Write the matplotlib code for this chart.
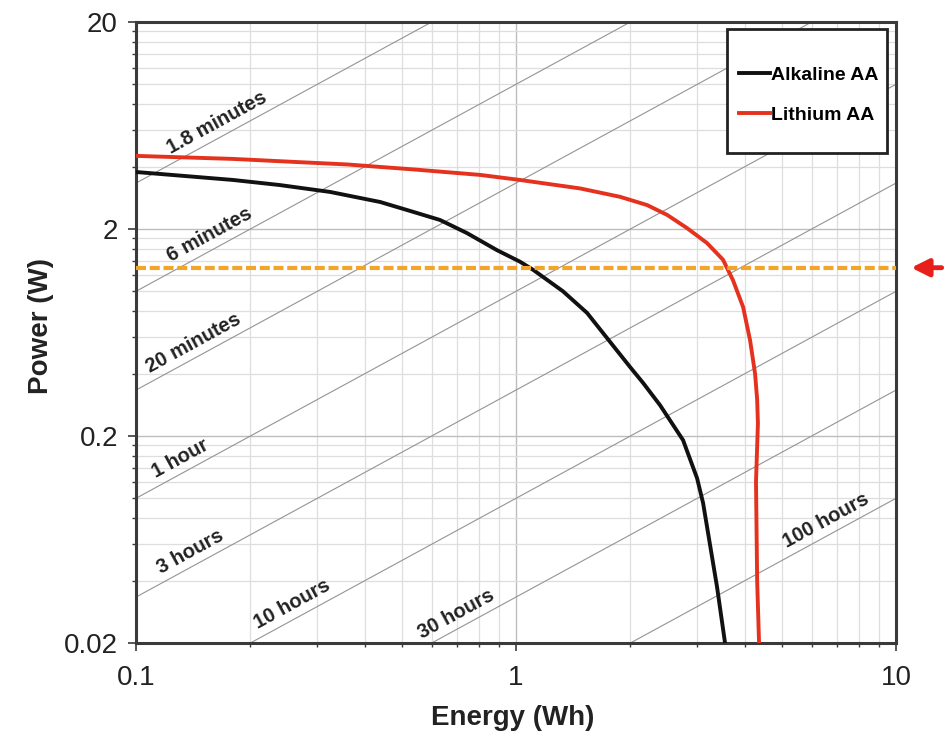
import numpy as np
import matplotlib
matplotlib.use('Agg')
import matplotlib.pyplot as plt
from matplotlib.ticker import FixedLocator, NullFormatter
from matplotlib.lines import Line2D
from matplotlib.patches import Rectangle

plt.rcParams['font.family'] = ['Liberation Sans', 'DejaVu Sans']

# ---------------- data ----------------
alk_energy = [0.100, 0.180, 0.239, 0.324, 0.439, 0.536, 0.631, 0.743, 0.891, 1.024,
              1.109, 1.329, 1.538, 1.736, 1.995, 2.159, 2.392, 2.751, 2.995, 3.106,
              3.240, 3.380, 3.548]
alk_power = [3.77, 3.45, 3.26, 3.02, 2.70, 2.42, 2.21, 1.91, 1.58, 1.39,
             1.27, 1.00, 0.786, 0.594, 0.431, 0.361, 0.282, 0.191, 0.125, 0.0949,
             0.0595, 0.0373, 0.020]

li_energy = [0.100, 0.180, 0.239, 0.359, 0.536, 0.804, 1.024, 1.474, 1.878, 2.212,
             2.497, 2.818, 3.181, 3.505, 3.724, 3.958, 4.129, 4.256, 4.310, 4.330,
             4.280, 4.310, 4.360]
li_power = [4.51, 4.36, 4.25, 4.10, 3.88, 3.65, 3.45, 3.14, 2.86, 2.61,
            2.34, 2.02, 1.71, 1.42, 1.13, 0.84, 0.58, 0.40, 0.30, 0.23,
            0.12, 0.040, 0.020]

runtime_hours = [0.03, 0.1, 0.3, 1, 3, 10, 30, 100]
runtime_labels = ['1.8 minutes', '6 minutes', '20 minutes', '1 hour',
                  '3 hours', '10 hours', '30 hours', '100 hours']
label_energy = [0.17, 0.163, 0.147, 0.136, 0.145, 0.268, 0.725, 6.8]

threshold_power = 1.3

x_ticks = [0.1, 1, 10]
x_tick_labels = ['0.1', '1', '10']
y_ticks = [0.02, 0.2, 2, 20]
y_tick_labels = ['0.02', '0.2', '2', '20']
x_minor = [m * d for d in (0.1, 1) for m in range(2, 10)]
y_minor = [m * d for d in (0.02, 0.2, 2) for m in range(2, 10)]

series_names = ['Alkaline AA', 'Lithium AA']
series_colors = ['#111111', '#E5321F']

# ---------------- figure ----------------
fig = plt.figure(figsize=(9.46, 7.35), dpi=100)
ax = fig.add_axes([0.1438, 0.1252, 0.8034, 0.8449])
ax.set_xscale('log')
ax.set_yscale('log')
ax.set_xlim(x_ticks[0], x_ticks[-1])
ax.set_ylim(y_ticks[0], y_ticks[-1])

ax.set_xticks(x_ticks)
ax.set_xticklabels(x_tick_labels)
ax.set_yticks(y_ticks)
ax.set_yticklabels(y_tick_labels)
ax.xaxis.set_minor_locator(FixedLocator(x_minor))
ax.yaxis.set_minor_locator(FixedLocator(y_minor))
ax.xaxis.set_minor_formatter(NullFormatter())
ax.yaxis.set_minor_formatter(NullFormatter())

ax.grid(True, which='major', color='#bdbdbd', lw=1.0, zorder=0)
ax.grid(True, which='minor', color='#dedede', lw=0.9, zorder=0)
ax.set_axisbelow(True)

for s in ax.spines.values():
    s.set_color('#3a3a3a')
    s.set_linewidth(2.2)
ax.tick_params(which='major', length=6, width=1.2, color='#3a3a3a',
               labelsize=20, labelcolor='#222222')
ax.tick_params(which='minor', length=3, width=1.0, color='#3a3a3a')
ax.tick_params(axis='x', which='major', pad=10)
ax.tick_params(axis='y', which='major', pad=7)

# constant runtime lines
p1 = ax.transData.transform((1, 1))
p2 = ax.transData.transform((10, 10))
angle = np.degrees(np.arctan2(p2[1] - p1[1], p2[0] - p1[0]))
e_line = np.array([x_ticks[0], x_ticks[-1]])
d = 10
for t, lab, el in zip(runtime_hours, runtime_labels, label_energy):
    ax.plot(e_line, e_line / t, color='#949494', lw=0.8, zorder=1)
    ax.annotate(lab, xy=(el, el / t),
                xytext=(-np.sin(np.radians(angle)) * d, np.cos(np.radians(angle)) * d),
                textcoords='offset points', rotation=angle, rotation_mode='anchor',
                ha='center', va='center', fontsize=14.5, fontweight='bold',
                color='#222222', zorder=3)

# battery curves
ax.plot(alk_energy, alk_power, color=series_colors[0], lw=2.8, zorder=4,
        solid_joinstyle='round')
ax.plot(li_energy, li_power, color=series_colors[1], lw=2.8, zorder=4,
        solid_joinstyle='round')

# threshold line
ax.axhline(threshold_power, color='#F2A52B', lw=3.0, dashes=(2.4, 0.9), zorder=6)
ax.annotate('', xy=(1.020, threshold_power), xycoords=('axes fraction', 'data'),
            xytext=(1.060, threshold_power), textcoords=('axes fraction', 'data'),
            arrowprops=dict(arrowstyle='-|>', color='#E8201C', lw=3.5,
                            mutation_scale=26, shrinkA=0, shrinkB=0),
            annotation_clip=False)

# legend
box = Rectangle((0.778, 0.789), 0.210, 0.200, transform=ax.transAxes,
                facecolor='white', edgecolor='#222222', lw=2.0, zorder=7)
ax.add_patch(box)
handles = [Line2D([], [], color=c, lw=2.8) for c in series_colors]
leg = ax.legend(handles, series_names, loc='center', bbox_to_anchor=(0.885, 0.882),
                frameon=False, handlelength=1.6, handletextpad=0.05,
                labelspacing=1.15, prop=dict(weight='bold', size=14))
leg.set_zorder(8)

ax.set_xlabel('Energy (Wh)', fontsize=20, fontweight='bold', color='#222222')
ax.set_ylabel('Power (W)', fontsize=20, fontweight='bold', color='#222222')
ax.xaxis.set_label_coords(0.495, -0.100)
ax.yaxis.set_label_coords(-0.108, 0.51)

fig.savefig('out.png', dpi=100)
